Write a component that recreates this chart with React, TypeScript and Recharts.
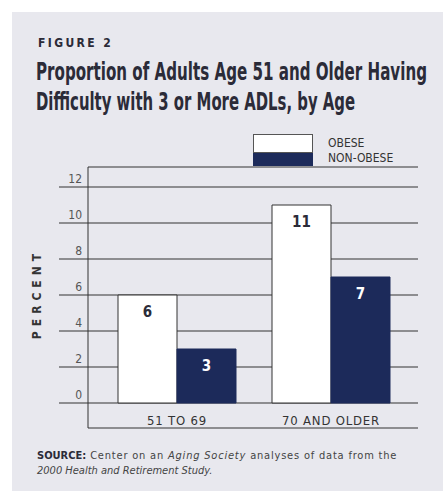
import { useLayoutEffect, useRef, useState } from 'react';
import { BarChart, Bar, XAxis, YAxis, CartesianGrid, LabelList, Legend } from 'recharts';

const ageGroups = ['51 TO 69', '70 AND OLDER'];
const obese = [6, 11];
const nonObese = [3, 7];
const yTicks = [0, 2, 4, 6, 8, 10, 12];

const NAVY = '#1c2a5a';
const INK = '#2b2b38';
const PANEL = '#e8e8ee';
const NARROW = '"Liberation Sans Narrow", "DejaVu Sans Condensed", Arial, sans-serif';
const LIGHT = '"DejaVu Sans Condensed", "Open Sans", sans-serif';

const data = ageGroups.map((g, i) => ({ group: g, obese: obese[i], nonObese: nonObese[i] }));
const legendOrder = ['obese', 'nonObese'];

// headline text squeezed horizontally to a target width
function FitText({ x, y, width, children }: { x: number; y: number; width: number; children: string }) {
  const ref = useRef<SVGTextElement>(null);
  const [sx, setSx] = useState(0.75);
  useLayoutEffect(() => {
    if (ref.current) {
      const w = ref.current.getComputedTextLength();
      if (w > 0) setSx(width / w);
    }
  }, [width, children]);
  return (
    <g transform={`translate(${x} ${y}) scale(${sx} 1)`}>
      <text ref={ref} x={0} y={0} fontFamily={NARROW} fontWeight="bold" fontSize={24} fill={INK}>
        {children}
      </text>
    </g>
  );
}

// y tick: label sits above its gridline, and the gridline runs out left of the axis
function YTick(props: any) {
  const { x, y, payload } = props;
  return (
    <g>
      <line x1={x - 29} x2={x} y1={y} y2={y} stroke="#333" strokeWidth={1} />
      <text x={x - 6} y={y - 8} textAnchor="end" dominantBaseline="central" fontFamily={LIGHT} fontSize={12} fill="#555">
        {payload.value}
      </text>
    </g>
  );
}

function XTick(props: any) {
  const { x, y, payload } = props;
  return (
    <text x={x} y={y - 8} textAnchor="middle" dominantBaseline="central" fontFamily={LIGHT} fontSize={13} letterSpacing={0.8} fill="#333">
      {payload.value}
    </text>
  );
}

function LegendBox(props: any) {
  const items = [...(props.payload || [])].sort(
    (a: any, b: any) => legendOrder.indexOf(a.dataKey) - legendOrder.indexOf(b.dataKey)
  );
  return (
    <div style={{ position: 'relative', width: 130, height: 34 }}>
      {items.map((it: any, i: number) => (
        <div key={it.value}>
          <div
            style={{
              position: 'absolute', left: 0, top: i === 0 ? 0 : 19, width: 60, height: i === 0 ? 19 : 13,
              background: it.color, boxSizing: 'border-box', border: i === 0 ? '1px solid #555' : 'none',
            }}
          />
          <div
            style={{
              position: 'absolute', left: 75, top: i === 0 ? 1 : 16, fontFamily: LIGHT, fontSize: 12,
              color: '#333', lineHeight: '16px', whiteSpace: 'nowrap',
            }}
          >
            {it.value}
          </div>
        </div>
      ))}
    </div>
  );
}

export default function App() {
  return (
    <div style={{ position: 'fixed', left: 0, top: 0, width: 443, height: 491, background: '#fff', overflow: 'hidden' }}>
      <div style={{ position: 'absolute', left: 12, top: 12, right: 0, bottom: 0, background: PANEL }} />

      <svg width={443} height={491} style={{ position: 'absolute', left: 0, top: 0 }}>
        <text x={38} y={47} fontFamily={NARROW} fontWeight="bold" fontSize={12} letterSpacing={2.4} fill={INK}>
          FIGURE 2
        </text>
        <FitText x={36} y={80} width={391}>Proportion of Adults Age 51 and Older Having</FitText>
        <FitText x={36} y={110} width={319}>Difficulty with 3 or More ADLs, by Age</FitText>
        <text
          x={41} y={294} transform="rotate(-90 41 294)" textAnchor="middle" fontFamily={NARROW}
          fontWeight="bold" fontSize={12} letterSpacing={5} fill="#333"
        >
          PERCENT
        </text>
        <text x={37} y={459} fontFamily={LIGHT} fontSize={11} letterSpacing={0.8} fill="#444">
          <tspan fontFamily={NARROW} fontWeight="bold" letterSpacing={0} fill={INK}>SOURCE:</tspan>
          <tspan> Center on an </tspan>
          <tspan fontStyle="italic">Aging Society</tspan>
          <tspan> analyses of data from the</tspan>
        </text>
        <text x={37} y={474} fontFamily={LIGHT} fontSize={11} fontStyle="italic" fill="#444">
          2000 Health and Retirement Study.
        </text>
      </svg>

      <div style={{ position: 'absolute', left: 0, top: 0 }}>
        <BarChart
          width={443}
          height={491}
          data={data}
          margin={{ top: 167, right: 25, bottom: 43, left: 58 }}
          barSize={59}
          barGap={0}
        >
          <CartesianGrid vertical={false} stroke="#333" strokeWidth={1} />
          <XAxis
            dataKey="group"
            height={20}
            axisLine={false}
            tickLine={false}
            tickSize={0}
            tickMargin={0}
            padding={{ left: 12, right: 10 }}
            tick={<XTick />}
          />
          <YAxis
            width={30}
            domain={[-25 / 18, 12 + 20 / 18]}
            ticks={yTicks}
            allowDataOverflow
            axisLine={{ stroke: '#333', strokeWidth: 1 }}
            tickLine={false}
            tickSize={0}
            tickMargin={0}
            tick={<YTick />}
          />
          <Legend
            layout="horizontal"
            verticalAlign="middle"
            align="center"
            wrapperStyle={{ left: 253, top: 134, width: 130 }}
            content={<LegendBox />}
          />
          <Bar dataKey="obese" name="OBESE" fill="#ffffff" stroke="#333" strokeWidth={1} isAnimationActive={false}>
            <LabelList dataKey="obese" position="insideTop" offset={11} fill={INK} fontFamily={NARROW} fontWeight="bold" fontSize={15} />
          </Bar>
          <Bar dataKey="nonObese" name="NON-OBESE" fill={NAVY} stroke={NAVY} strokeWidth={1} isAnimationActive={false}>
            <LabelList dataKey="nonObese" position="insideTop" offset={11} fill="#ffffff" fontFamily={NARROW} fontWeight="bold" fontSize={15} />
          </Bar>
        </BarChart>
      </div>
    </div>
  );
}
